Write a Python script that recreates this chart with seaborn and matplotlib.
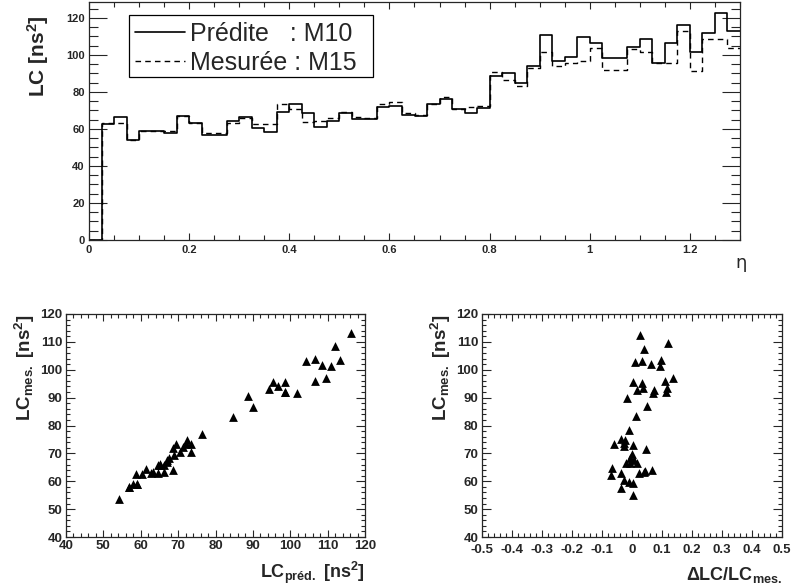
import numpy as np
import pandas as pd
import matplotlib
matplotlib.use('Agg')
import matplotlib.pyplot as plt
import seaborn as sns
from matplotlib.ticker import MultipleLocator, FuncFormatter
from matplotlib.patches import Rectangle
from matplotlib.lines import Line2D

# LC per eta bin (bin width 0.025, from 0 to 1.3)
predite = [0, 62.7, 66.3, 54.1, 58.9, 58.9, 58.0, 67.0, 63.4, 56.8, 56.8, 64.5, 66.3,
           60.4, 58.6, 69.4, 73.5, 68.5, 61.3, 64.5, 68.8, 65.2, 65.2, 72.1, 72.4, 67.6,
           67.0, 73.5, 76.4, 70.6, 68.5, 71.2, 88.6, 90.1, 84.7, 94.2, 110.8, 96.8, 98.7,
           109.5, 106.7, 98.6, 98.6, 104.1, 108.5, 95.5, 106.7, 116.2, 101.8, 112.1, 122.9, 113.2]
mesuree = [0, 63.1, 63.4, 53.8, 59.1, 58.9, 58.9, 67.0, 63.4, 58.0, 58.0, 63.1, 65.8,
           62.7, 62.7, 73.5, 70.6, 64.0, 64.5, 65.8, 69.4, 66.3, 65.8, 73.5, 74.8, 68.5,
           67.6, 73.5, 77.1, 70.6, 72.1, 72.4, 90.6, 86.5, 83.2, 93.2, 101.4, 94.1, 95.5,
           96.9, 104.0, 91.9, 91.9, 103.1, 101.8, 95.5, 95.9, 113.2, 91.5, 108.5, 108.5, 103.6]

# right panel: relative difference vs measured LC
delta_rel = [0.026, 0.039, 0.120, 0.011, 0.033, 0.063, 0.097, 0.094, 0.003, 0.033,
             0.037, 0.017, 0.072, 0.070, 0.109, 0.137, 0.117, 0.114, -0.017, 0.050,
             0.012, -0.011, -0.061, -0.037, -0.028, -0.022, 0.003, -0.028, 0.048, 0.000,
             -0.006, 0.006, -0.019, 0.017, -0.006, -0.067, -0.070, -0.036, 0.039, 0.022,
             0.044, 0.067, -0.028, -0.011, 0.003, -0.037, 0.003]
lc_mes = [112.4, 107.6, 109.7, 102.8, 103.2, 102.2, 103.4, 101.4, 95.7, 95.1,
          93.6, 92.9, 92.7, 91.5, 96.0, 96.9, 93.6, 92.1, 89.7, 87.0,
          83.4, 78.4, 73.3, 75.0, 73.6, 74.8, 73.0, 72.6, 71.4, 69.7,
          68.2, 67.8, 66.6, 66.4, 66.4, 64.6, 62.2, 62.8, 63.4, 62.8,
          63.8, 64.0, 60.4, 59.8, 59.5, 57.4, 55.1]

bin_width = 0.025
eta = (np.arange(len(predite)) + 0.5) * bin_width
df = pd.DataFrame({'eta': eta, 'predite': predite, 'mesuree': mesuree})

sns.set_style('ticks')
plt.rcParams['font.family'] = ['Liberation Sans', 'DejaVu Sans']
plt.rcParams['font.weight'] = 'bold'
plt.rcParams['mathtext.fontset'] = 'custom'
plt.rcParams['mathtext.rm'] = 'Liberation Sans:bold'
plt.rcParams['mathtext.bf'] = 'Liberation Sans:bold'
plt.rcParams['mathtext.default'] = 'bf'
plt.rcParams['axes.linewidth'] = 0.9

W, H = 791, 588


def box(l, t, r, b):
    return [l / W, 1 - b / H, (r - l) / W, (b - t) / H]


fig = plt.figure(figsize=(W / 100, H / 100), dpi=100)
ax_top = fig.add_axes(box(89, 2, 740, 240))
ax_bl = fig.add_axes(box(66, 314, 365, 537))
ax_br = fig.add_axes(box(482, 314, 782, 537))

# top: LC vs eta, two step histograms
sns.histplot(data=df, x='eta', weights='predite', binwidth=bin_width, binrange=(0, 1.3),
             element='step', fill=False, color='black', linewidth=1.2, ax=ax_top)
sns.histplot(data=df, x='eta', weights='mesuree', binwidth=bin_width, binrange=(0, 1.3),
             element='step', fill=False, color='black', linewidth=1.0,
             linestyle=(0, (4, 3)), ax=ax_top)
ax_top.set_xlim(0, 1.3)
ax_top.set_ylim(0, 128.6)
ax_top.xaxis.set_major_locator(MultipleLocator(0.2))
ax_top.xaxis.set_minor_locator(MultipleLocator(0.05))
ax_top.yaxis.set_major_locator(MultipleLocator(20))
ax_top.yaxis.set_minor_locator(MultipleLocator(5))
ax_top.xaxis.set_major_formatter(FuncFormatter(lambda v, p: '%g' % round(v, 3)))
ax_top.tick_params(which='both', direction='in', top=True, right=True, labelsize=8, width=0.8)
ax_top.tick_params(axis='x', which='major', length=5, pad=3.6)
ax_top.tick_params(axis='x', which='minor', length=3.6)
ax_top.tick_params(axis='y', which='major', length=13, pad=3)
ax_top.tick_params(axis='y', which='minor', length=6.5)
ax_top.set_xlabel('')
ax_top.set_ylabel('')

# bottom left: measured vs predicted
sns.scatterplot(data=df.iloc[1:], x='predite', y='mesuree', marker='^', s=40, color='black',
                linewidth=0, ax=ax_bl)
ax_bl.set_xlim(40, 120)
ax_bl.set_ylim(40, 120)
ax_bl.xaxis.set_major_locator(MultipleLocator(10))
ax_bl.xaxis.set_minor_locator(MultipleLocator(2))

# bottom right: measured vs relative difference
sns.scatterplot(x=delta_rel, y=lc_mes, marker='^', s=40, color='black',
                linewidth=0, ax=ax_br)
ax_br.set_xlim(-0.5, 0.5)
ax_br.set_ylim(40, 120)
ax_br.xaxis.set_major_locator(MultipleLocator(0.1))
ax_br.xaxis.set_minor_locator(MultipleLocator(0.02))
ax_br.xaxis.set_major_formatter(FuncFormatter(lambda v, p: '%g' % round(v, 3)))

for ax in (ax_bl, ax_br):
    ax.yaxis.set_major_locator(MultipleLocator(10))
    ax.yaxis.set_minor_locator(MultipleLocator(2))
    ax.tick_params(which='both', direction='in', top=True, right=True, labelsize=9.5, width=0.8)
    ax.tick_params(axis='x', which='major', length=5, pad=2.5)
    ax.tick_params(axis='x', which='minor', length=2.9)
    ax.tick_params(axis='y', which='major', length=6.5, pad=2.5)
    ax.tick_params(axis='y', which='minor', length=3.2)
    ax.set_xlabel('')
    ax.set_ylabel('')
ax_br.tick_params(axis='x', which='major', pad=4.8)

# axis titles
fig.text(38 / W, 1 - 15 / H, 'LC [ns$^{2}$]', rotation=90, ha='center', va='top',
         fontsize=15, fontweight='bold')
fig.text(741 / W, 1 - 263 / H, 'η', ha='center', va='center', fontsize=13,
         fontweight='normal', family=['DejaVu Sans'])
fig.text(25 / W, 1 - 314 / H, 'LC$_{mes.}$ [ns$^{2}$]', rotation=90, ha='center',
         va='top', fontsize=13.5, fontweight='bold')
fig.text(441 / W, 1 - 314 / H, 'LC$_{mes.}$ [ns$^{2}$]', rotation=90, ha='center',
         va='top', fontsize=13.5, fontweight='bold')
fig.text(365 / W, 1 - 578 / H, 'LC$_{préd.}$ [ns$^{2}$]', ha='right', va='baseline',
         fontsize=13, fontweight='bold')
fig.text(782 / W, 1 - 580 / H, 'ΔLC/LC$_{mes.}$', ha='right', va='baseline',
         fontsize=13, fontweight='bold')

# legend box
fig.add_artist(Rectangle((129 / W, 1 - 77 / H), 244 / W, 62 / H, transform=fig.transFigure,
                         facecolor='white', edgecolor='black', linewidth=0.9, zorder=5))
fig.add_artist(Line2D([135 / W, 185 / W], [1 - 32 / H, 1 - 32 / H], transform=fig.transFigure,
                      color='black', linewidth=1.2, zorder=6))
fig.add_artist(Line2D([135 / W, 185 / W], [1 - 61 / H, 1 - 61 / H], transform=fig.transFigure,
                      color='black', linewidth=1.0, linestyle=(0, (4, 3)), zorder=6))
fig.text(190 / W, 1 - 41 / H, 'Prédite   : M10', ha='left', va='baseline', fontsize=18,
         fontweight='normal', zorder=7)
fig.text(190 / W, 1 - 70 / H, 'Mesurée : M15', ha='left', va='baseline', fontsize=18,
         fontweight='normal', zorder=7)

fig.savefig('out.png', dpi=100)
